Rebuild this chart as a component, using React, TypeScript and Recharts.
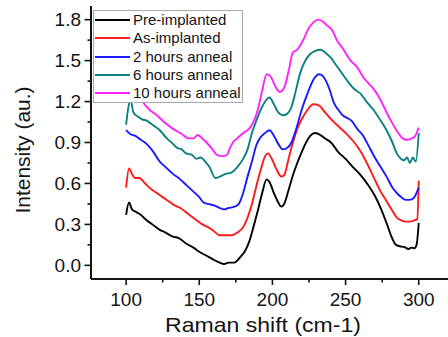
import React from 'react';
import { LineChart, Line, XAxis, YAxis, Legend } from 'recharts';

// ---- data ----
const preX = [100, 102, 104, 107, 110, 114, 118, 123, 127, 132, 136, 141, 146, 150, 155, 160, 164, 167, 170, 174, 178, 181, 184, 187, 190, 193, 196, 198, 201, 204, 206, 208, 211, 214, 217, 220, 223, 226, 229, 232, 236, 240, 245, 250, 255, 260, 265, 270, 274, 278, 281, 284, 287, 290, 293, 295, 297, 298.5, 300];
const preY = [0.37, 0.46, 0.41, 0.39, 0.37, 0.33, 0.3, 0.26, 0.24, 0.21, 0.2, 0.16, 0.13, 0.1, 0.07, 0.04, 0.02, 0.01, 0.02, 0.02, 0.06, 0.1, 0.17, 0.28, 0.4, 0.53, 0.63, 0.61, 0.53, 0.46, 0.43, 0.45, 0.55, 0.66, 0.75, 0.83, 0.9, 0.95, 0.97, 0.96, 0.93, 0.9, 0.83, 0.78, 0.72, 0.665, 0.595, 0.51, 0.42, 0.31, 0.22, 0.155, 0.14, 0.135, 0.12, 0.13, 0.125, 0.15, 0.31];

const asX = [100, 102, 104, 106, 109, 113, 117, 121, 125, 129, 133, 137, 142, 147, 152, 156, 160, 164, 168, 172, 176, 180, 183, 186, 189, 192, 195, 197, 200, 203, 206, 208, 211, 214, 217, 220, 224, 228, 232, 236, 241, 246, 251, 256, 260, 265, 269, 274, 278, 282, 285, 288, 291, 294, 297, 299, 300];
const asY = [0.57, 0.71, 0.67, 0.64, 0.64, 0.6, 0.56, 0.53, 0.5, 0.47, 0.44, 0.42, 0.38, 0.34, 0.3, 0.28, 0.25, 0.22, 0.22, 0.22, 0.24, 0.28, 0.35, 0.45, 0.58, 0.7, 0.8, 0.82, 0.77, 0.7, 0.65, 0.66, 0.78, 0.9, 1.0, 1.07, 1.14, 1.18, 1.17, 1.12, 1.06, 1.01, 0.96, 0.9, 0.84, 0.74, 0.65, 0.54, 0.47, 0.4, 0.35, 0.33, 0.32, 0.32, 0.33, 0.34, 0.62];

const h2X = [100, 103, 106, 110, 114, 118, 123, 127, 132, 137, 141, 146, 150, 153, 156, 160, 164, 167, 170, 174, 177, 180, 183, 186, 189, 192, 195, 198, 201, 204, 207, 210, 213, 216, 220, 224, 228, 232, 235, 239, 242, 245, 248, 251, 254, 258, 262, 266, 270, 274, 278, 282, 285, 288, 291, 294, 297, 300];
const h2Y = [0.99, 0.96, 0.95, 0.92, 0.89, 0.84, 0.76, 0.72, 0.67, 0.63, 0.59, 0.54, 0.5, 0.46, 0.45, 0.44, 0.42, 0.41, 0.42, 0.43, 0.45, 0.53, 0.65, 0.76, 0.88, 0.94, 0.97, 0.99, 0.95, 0.89, 0.85, 0.86, 0.9, 0.99, 1.14, 1.26, 1.36, 1.4, 1.38, 1.29, 1.19, 1.14, 1.1, 1.08, 1.06, 1.0, 0.95, 0.87, 0.79, 0.72, 0.65, 0.57, 0.53, 0.5, 0.48, 0.48, 0.5, 0.57];

const h6X = [100, 101, 103, 105, 108, 111, 114, 118, 123, 127, 132, 135, 138, 141, 145, 148, 151, 154, 157, 161, 164, 168, 172, 176, 180, 183, 186, 189, 192, 195, 198, 201, 204, 207, 210, 213, 216, 219, 222, 226, 229, 233, 236, 240, 244, 248, 252, 256, 260, 265, 269, 274, 278, 282, 285, 288, 290, 292, 294, 296, 298, 300];
const h6Y = [1.03, 1.12, 1.21, 1.12, 1.09, 1.07, 1.06, 1.03, 0.99, 0.94, 0.89, 0.86, 0.85, 0.82, 0.81, 0.78, 0.79, 0.76, 0.72, 0.64, 0.65, 0.67, 0.68, 0.72, 0.78, 0.85, 0.97, 1.06, 1.14, 1.2, 1.23, 1.18, 1.12, 1.1, 1.11, 1.16, 1.28, 1.41, 1.49, 1.55, 1.57, 1.58, 1.56, 1.52, 1.46, 1.4, 1.34, 1.29, 1.26, 1.19, 1.14, 1.06, 0.99, 0.9, 0.82, 0.78, 0.77, 0.79, 0.75, 0.79, 0.76, 0.97];

const h10X = [100, 102, 104, 108, 112, 116, 121, 126, 132, 137, 143, 146, 149, 152, 155, 159, 162, 166, 169, 171, 173, 176, 180, 184, 187, 190, 193, 196, 199, 202, 205, 208, 211, 214, 217, 221, 225, 228, 231, 234, 237, 241, 244, 248, 253, 258, 262, 266, 270, 274, 278, 282, 286, 289, 292, 295, 297, 300];
const h10Y = [1.35, 1.45, 1.38, 1.28, 1.19, 1.14, 1.1, 1.05, 1.0, 0.97, 0.93, 0.93, 0.955, 0.93, 0.9, 0.85, 0.81, 0.8, 0.81, 0.86, 0.9, 0.93, 0.97, 1.0, 1.05, 1.14, 1.28, 1.4, 1.38, 1.31, 1.27, 1.3, 1.42, 1.56, 1.58, 1.65, 1.74, 1.78, 1.8, 1.79, 1.76, 1.72, 1.65, 1.59, 1.505, 1.45, 1.38, 1.33, 1.28, 1.21, 1.12, 1.04, 0.97, 0.93, 0.92, 0.93, 0.94, 1.01];

const seriesNames = ['Pre-implanted', 'As-implanted', '2 hours anneal', '6 hours anneal', '10 hours anneal'];
const seriesColors = ['#000000', '#ff1a1a', '#1a1aff', '#0a8080', '#ff22ff'];
const seriesXs = [preX, asX, h2X, h6X, h10X];
const seriesYs = [preY, asY, h2Y, h6Y, h10Y];

const xTicks = [100, 125, 150, 175, 200, 225, 250, 275, 300];
const yTicks = [0, 0.15, 0.3, 0.45, 0.6, 0.75, 0.9, 1.05, 1.2, 1.35, 1.5, 1.65, 1.8];
const xLabel = 'Raman shift (cm-1)';
const yLabel = 'Intensity (au.)';

// ---- layout ----
const W = 448;
const H = 337;
const M_TOP = 6;
const Y_AXIS_W = 91;
const X_AXIS_H = 58;
const PLOT_LEFT = Y_AXIS_W;
const PLOT_BOTTOM = H - X_AXIS_H;
const FONT = "'Liberation Sans', Arial, sans-serif";
const INK = '#141414';

const buildData = (xs: number[], ys: number[]) => xs.map((x, i) => ({ x, y: ys[i] }));

const XTick = (props: any) => {
  const { x, index, payload } = props;
  const major = index % 2 === 0;
  return (
    <g>
      <line x1={x} x2={x} y1={PLOT_BOTTOM} y2={PLOT_BOTTOM + (major ? 6 : 3.5)} stroke={INK} strokeWidth={1.6} />
      {major && (
        <text x={x} y={306} textAnchor="middle" fontSize={19} fontFamily={FONT} fill={INK}>
          {payload.value}
        </text>
      )}
    </g>
  );
};

const YTick = (props: any) => {
  const { y, index, payload } = props;
  const major = index % 2 === 0;
  return (
    <g>
      <line x1={PLOT_LEFT - (major ? 6.5 : 3.5)} x2={PLOT_LEFT} y1={y} y2={y} stroke={INK} strokeWidth={1.6} />
      {major && (
        <text x={81} y={y + 6.8} textAnchor="end" fontSize={19} fontFamily={FONT} fill={INK}>
          {Number(payload.value).toFixed(1)}
        </text>
      )}
    </g>
  );
};

const renderXLabel = () => (
  <text x={263} y={332} textAnchor="middle" fontSize={21} fontFamily={FONT} fill={INK} textLength={196} lengthAdjust="spacingAndGlyphs">
    {xLabel}
  </text>
);

const renderYLabel = () => (
  <text x={0} y={0} textAnchor="middle" fontSize={21} fontFamily={FONT} fill={INK} transform={`translate(30, 150) rotate(-90)`}>
    {yLabel}
  </text>
);

const LegendBox = () => (
  <div
    style={{
      border: '1px solid #a8a8a8',
      background: '#ffffff',
      width: 148,
      boxSizing: 'content-box',
      fontFamily: FONT,
      fontSize: 15,
      color: INK,
      paddingBottom: 0,
    }}
  >
    {seriesNames.map((name, i) => (
      <div key={name} style={{ display: 'flex', alignItems: 'center', height: 18.3, lineHeight: '18.3px', whiteSpace: 'nowrap' }}>
        <div style={{ width: 35, height: 2, background: seriesColors[i], marginLeft: 1, marginRight: 3 }} />
        <span>{name}</span>
      </div>
    ))}
  </div>
);

export default function App() {
  return (
    <div style={{ position: 'absolute', left: 0, top: 0, width: W, height: H, background: '#fff' }}>
      <LineChart width={W} height={H} margin={{ top: M_TOP, right: 0, bottom: 0, left: 0 }}>
        <XAxis
          xAxisId="top"
          orientation="top"
          type="number"
          dataKey="x"
          domain={[76, 320]}
          allowDataOverflow
          height={0}
          tick={false}
          tickLine={false}
          axisLine={{ stroke: INK, strokeWidth: 2 }}
        />
        <XAxis
          type="number"
          dataKey="x"
          domain={[76, 320]}
          allowDataOverflow
          ticks={xTicks}
          interval={0}
          height={X_AXIS_H}
          tick={<XTick />}
          tickLine={false}
          axisLine={{ stroke: INK, strokeWidth: 2 }}
          label={{ value: xLabel, content: renderXLabel }}
        />
        <YAxis
          type="number"
          domain={[-0.1, 1.9]}
          allowDataOverflow
          ticks={yTicks}
          interval={0}
          width={Y_AXIS_W}
          tick={<YTick />}
          tickLine={false}
          axisLine={{ stroke: INK, strokeWidth: 2 }}
          label={{ value: yLabel, content: renderYLabel }}
        />
        {seriesNames.map((name, i) => (
          <Line
            key={name}
            name={name}
            data={buildData(seriesXs[i], seriesYs[i])}
            dataKey="y"
            type="monotone"
            stroke={seriesColors[i]}
            strokeWidth={1.9}
            dot={false}
            activeDot={false}
            isAnimationActive={false}
          />
        ))}
        <Legend
          layout="vertical"
          align="center"
          verticalAlign="middle"
          wrapperStyle={{ left: 93, top: 10, width: 150 }}
          content={() => <LegendBox />}
        />
      </LineChart>
    </div>
  );
}
